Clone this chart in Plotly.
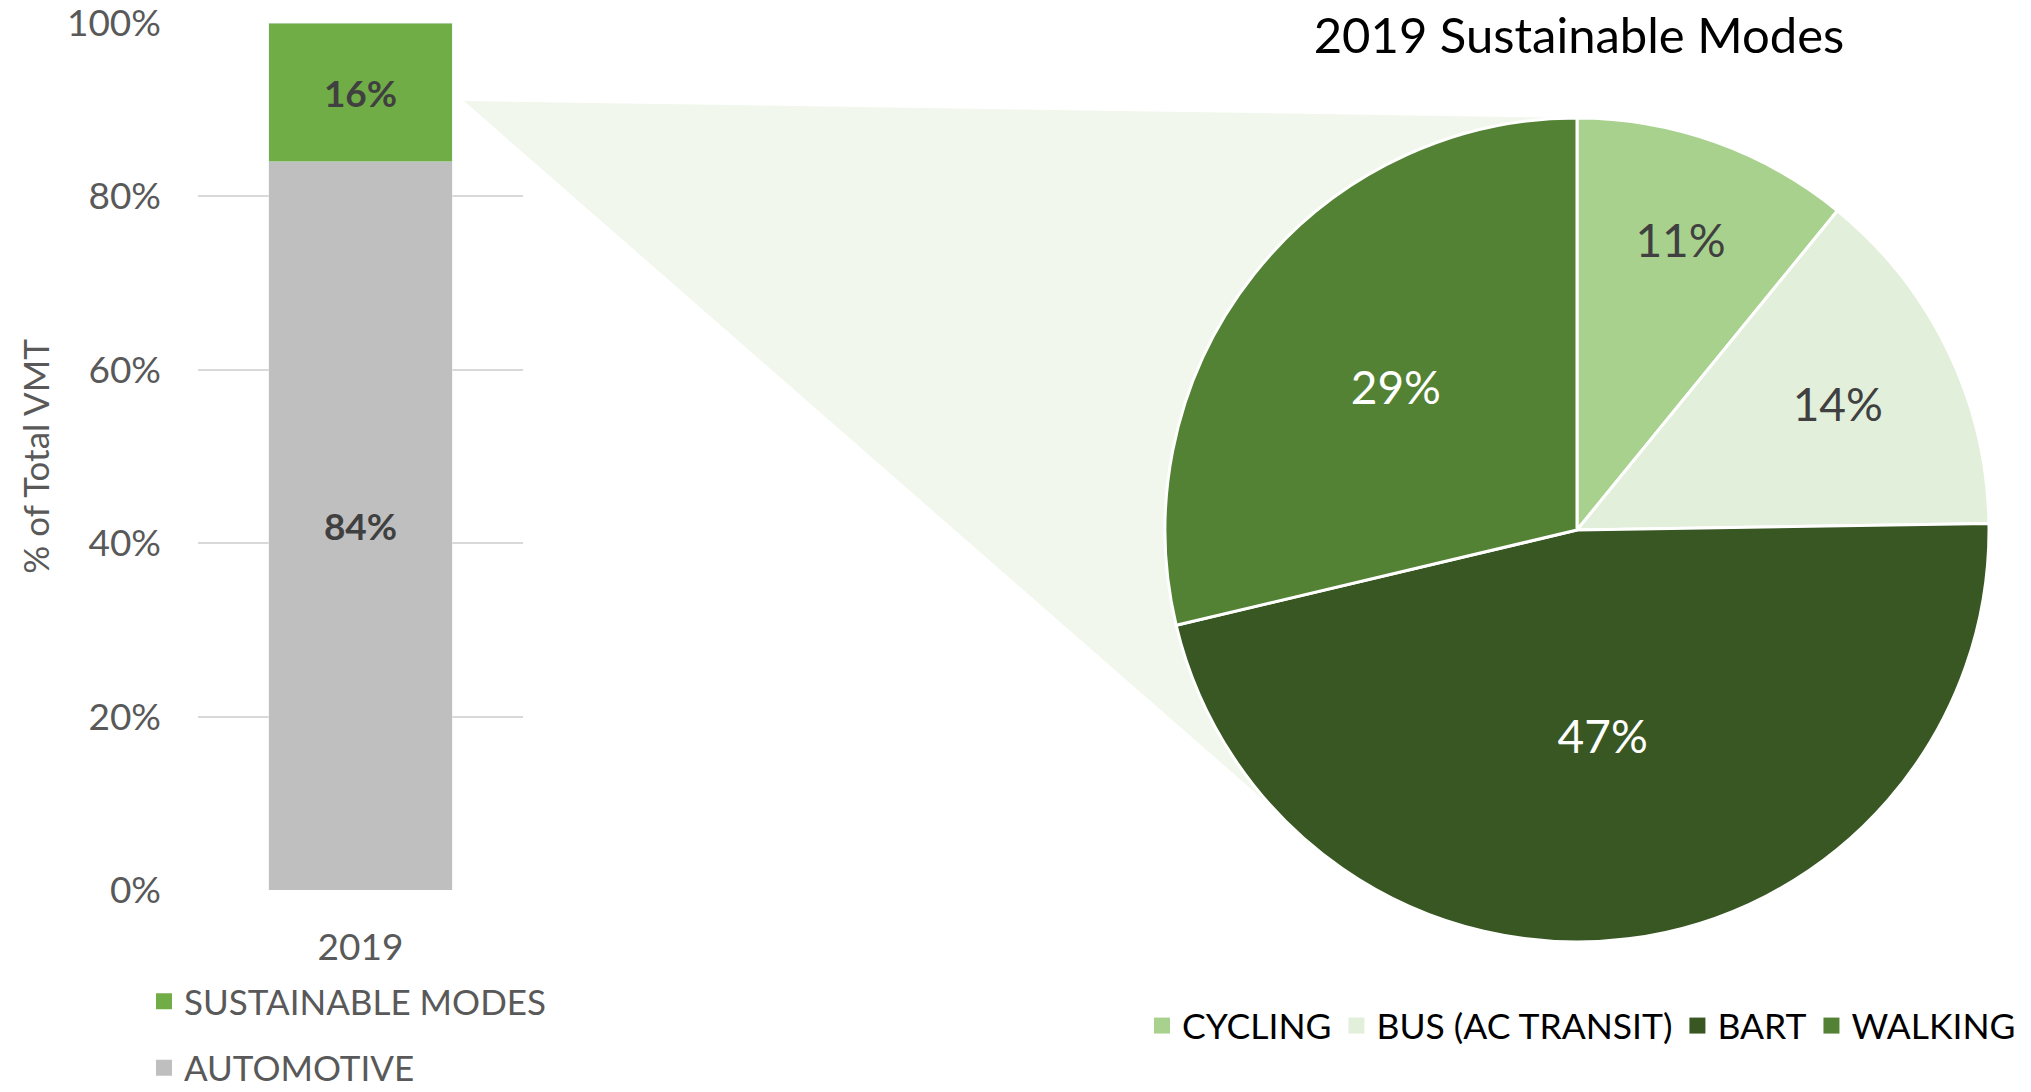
import plotly.graph_objects as go

W, H = 2031, 1092

# ---- data ----
years = ["2019"]
automotive = [84]
sustainable = [16]
bar_series = ["AUTOMOTIVE", "SUSTAINABLE MODES"]

pie_labels = ["CYCLING", "BUS (AC TRANSIT)", "BART", "WALKING"]
pie_values = [11, 14, 47, 29]
pie_title = "2019 Sustainable Modes"

y_ticks = [0, 20, 40, 60, 80, 100]
y_ticktext = ["0%", "20%", "40%", "60%", "80%", "100%"]

# ---- styles ----
FONT = "Lato"
C_AUTO = "#BFBFBF"
C_SUST = "#70AD47"
PIE_COLORS = ["#A9D18E", "#E2EFDA", "#385723", "#548235"]
PIE_TEXT = ["#404040", "#404040", "#FFFFFF", "#FFFFFF"]


def px(x):
    return x / W


def py(y):
    return 1 - y / H


fig = go.Figure()

bar_text_font = dict(family=FONT, size=37, color="#404040", weight="bold")
fig.add_trace(go.Bar(
    x=years, y=automotive, name=bar_series[0], marker_color=C_AUTO,
    width=0.566, texttemplate="%{y}%", textposition="inside",
    insidetextanchor="middle", textfont=bar_text_font,
    showlegend=False, hoverinfo="skip",
))
fig.add_trace(go.Bar(
    x=years, y=sustainable, name=bar_series[1], marker_color=C_SUST,
    width=0.566, texttemplate="%{y}%", textposition="inside",
    insidetextanchor="middle", textfont=bar_text_font,
    showlegend=False, hoverinfo="skip",
))

# legend entries for the bar chart (square swatches)
for name, col, rank in [(bar_series[1], C_SUST, 1), (bar_series[0], C_AUTO, 2)]:
    fig.add_trace(go.Scatter(
        x=[None], y=[None], mode="markers", name=name,
        marker=dict(symbol="square", size=16, color=col),
        legend="legend", legendgroup=name, legendrank=rank,
        hoverinfo="skip",
    ))

fig.add_trace(go.Pie(
    labels=pie_labels, values=pie_values, sort=False, direction="clockwise",
    rotation=0,
    marker=dict(colors=PIE_COLORS, line=dict(color="white", width=3)),
    texttemplate="%{value}%", textposition="inside",
    insidetextorientation="horizontal",
    textfont=dict(family=FONT, size=46, color=PIE_TEXT),
    domain=dict(x=[px(1165), px(1989)], y=[py(942), py(118)]),
    showlegend=False, hoverinfo="skip",
))

# legend entries for the pie (square swatches)
for i, (name, col) in enumerate(zip(pie_labels, PIE_COLORS)):
    fig.add_trace(go.Scatter(
        x=[None], y=[None], mode="markers", name=name,
        marker=dict(symbol="square", size=16, color=col),
        legend="legend2", legendrank=i + 1, hoverinfo="skip",
    ))

fig.update_layout(
    width=W, height=H,
    margin=dict(l=0, r=0, t=0, b=0, autoexpand=False),
    paper_bgcolor="white", plot_bgcolor="white",
    barmode="stack",
    showlegend=True,
    font=dict(family=FONT, color="#595959"),
    title=dict(text=pie_title, x=px(1579), xanchor="center",
               y=py(36), yanchor="middle",
               font=dict(family=FONT, size=49, color="#000000")),
    xaxis=dict(domain=[px(198), px(523)], range=[-0.5, 0.5],
               showgrid=False, zeroline=False, showline=False,
               ticks="", tickfont=dict(size=37, color="#595959"),
               ticklabelstandoff=32, fixedrange=True),
    yaxis=dict(domain=[py(890), py(23)], range=[0, 100],
               tickvals=y_ticks, ticktext=y_ticktext,
               showgrid=True, gridcolor="#D9D9D9", gridwidth=2,
               zeroline=False, showline=False, ticks="",
               tickfont=dict(size=37, color="#595959"),
               ticklabelstandoff=36, ticklabeloverflow="allow",
               title=dict(text="% of Total VMT", standoff=6,
                          font=dict(size=35, color="#595959")),
               fixedrange=True),
    legend=dict(x=px(144), y=py(972), xanchor="left", yanchor="top",
                orientation="v", traceorder="grouped",
                tracegroupgap=18, itemsizing="trace",
                font=dict(family=FONT, size=35, color="#595959"),
                itemwidth=30, bgcolor="rgba(0,0,0,0)"),
    legend2=dict(x=px(1142), y=py(1026), xanchor="left", yanchor="middle",
                 orientation="h", itemsizing="trace",
                 font=dict(family=FONT, size=35.5, color="#000000"),
                 itemwidth=30, bgcolor="rgba(0,0,0,0)"),
    shapes=[dict(
        type="path", xref="paper", yref="paper", layer="below",
        path=(f"M {px(464)},{py(101)} L {px(1577)},{py(118)} "
              f"L {px(1577)},{py(530)} L {px(1290)},{py(823)} Z"),
        fillcolor="#F1F7EC", line=dict(width=0),
    )],
)

fig.write_html(
    "out.html",
    config={"displayModeBar": False},
    post_script="document.body.style.margin='0px';"
                "document.body.style.overflow='hidden';",
)
